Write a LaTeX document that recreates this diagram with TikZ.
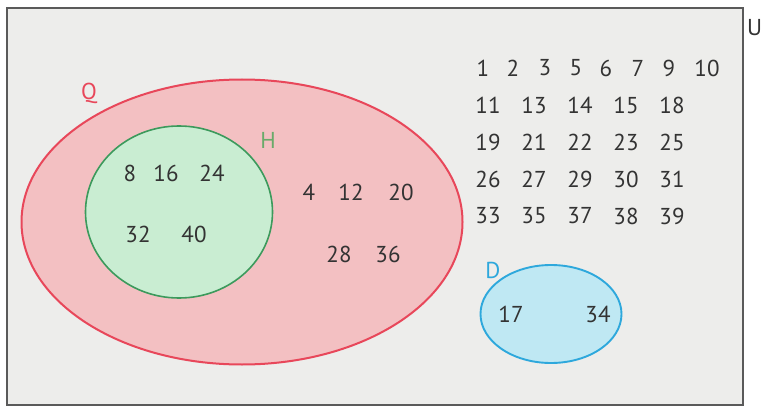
\documentclass[tikz,border=0pt]{standalone}
\usepackage{fontspec}
\setmainfont{PT Sans}
\usetikzlibrary{shapes.geometric}
\definecolor{panel}{HTML}{EDEDEB}
\definecolor{frame}{HTML}{5A5A5A}
\definecolor{ink}{HTML}{333333}
\definecolor{qred}{HTML}{E8475A}
\definecolor{qbg}{HTML}{F3C0C2}
\definecolor{hgreen}{HTML}{3C9A5C}
\definecolor{hlbl}{HTML}{6AAA6A}
\definecolor{hbg}{HTML}{C9EDD2}
\definecolor{dblue}{HTML}{2EA8DC}
\definecolor{dbg}{HTML}{BFE8F3}
\tikzset{
  setq/.style ={ellipse, draw=qred,   line width=2pt,   fill=qbg, inner sep=0pt},
  seth/.style ={ellipse, draw=hgreen, line width=1.6pt, fill=hbg, inner sep=0pt},
  setd/.style ={ellipse, draw=dblue,  line width=1.9pt, fill=dbg, inner sep=0pt},
  num/.style  ={font=\fontsize{23}{26}\selectfont, text=ink, inner sep=0pt},
  lbl/.style  ={font=\fontsize{23}{26}\selectfont, inner sep=0pt},
}
\begin{document}
\begin{tikzpicture}[x=1pt,y=-1pt]
  \useasboundingbox (0,0) rectangle (763,409);
  \fill[white] (0,0) rectangle (763,409);
  \draw[frame, fill=panel, line width=1.2pt] (7,8) rectangle (743,405);
  \node[lbl, text=ink, anchor=west] (U) at (747,28) {U};

  % sets
  \node[setq, minimum width=441pt, minimum height=285pt] (Q) at (242,222) {};
  \node[seth, minimum width=187pt, minimum height=172pt] (H) at (179,212) {};
  \node[setd, minimum width=141pt, minimum height=98pt]  (D) at (551,314) {};
  \node[lbl, text=qred]   (Qlbl) at (89,93)   {Q};
  \node[lbl, text=hlbl]   (Hlbl) at (268,140) {H};
  \node[lbl, text=dblue]  (Dlbl) at (493,270) {D};

  % elements of H
  \node[num] (h8)  at (130,173) {8};
  \node[num] (h16) at (166,173) {16};
  \node[num] (h24) at (212,173) {24};
  \node[num] (h32) at (138,234) {32};
  \node[num] (h40) at (194,234) {40};

  % elements of Q only
  \node[num] (q4)  at (309,192) {4};
  \node[num] (q12) at (351,192) {12};
  \node[num] (q20) at (401,192) {20};
  \node[num] (q28) at (339,254) {28};
  \node[num] (q36) at (388,254) {36};

  % elements of D
  \node[num] (d17) at (511,314) {17};
  \node[num] (d34) at (598,314) {34};

  % the rest of U
  \foreach \n/\x in {1/483,2/513,3/545,5/576,6/606,7/638,9/669,10/707}
    \node[num] (u\n) at (\x,68) {\n};
  \foreach \a/\b/\c/\d/\e [count=\r] in {11/13/14/15/18,19/21/22/23/25,26/27/29/30/31,33/35/37/38/39}
    \foreach \n [count=\k] in {\a,\b,\c,\d,\e}
      \node[num] (u\n) at (442+46*\k,68+37*\r) {\n};
\end{tikzpicture}
\end{document}
